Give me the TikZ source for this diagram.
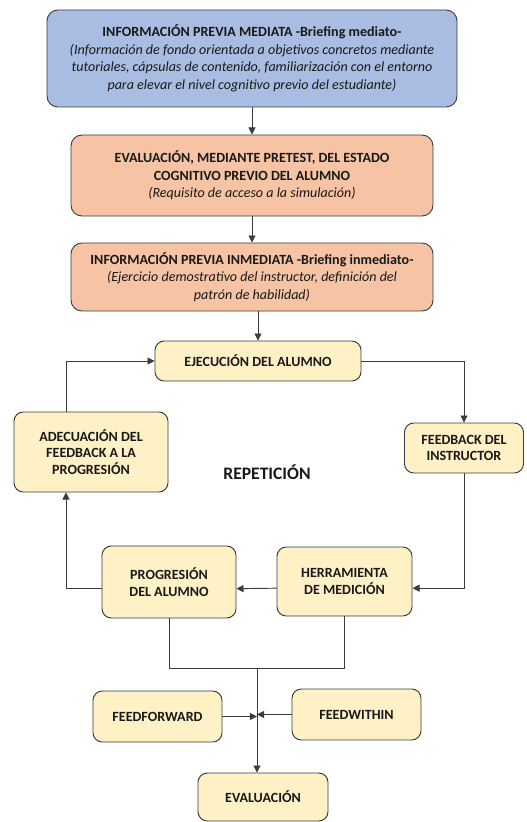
\documentclass[tikz,border=0pt]{standalone}
\usepackage{fontspec}
\setmainfont{Carlito}
\usepackage{tikz}
\usetikzlibrary{arrows.meta, positioning, calc}

\definecolor{azul}{RGB}{169,189,227}
\definecolor{naranja}{RGB}{246,196,164}
\definecolor{amarillo}{RGB}{255,241,198}
\definecolor{borde}{RGB}{60,60,60}
\definecolor{texto}{RGB}{25,25,25}

\tikzset{
    caja/.style={draw=borde, line width=0.8pt, rounded corners=0.33cm, align=center, text=texto,
        font=\fontsize{12}{15}\selectfont, inner sep=2pt},
    fase/.style={caja, fill=amarillo, font=\fontsize{12}{14.2}\selectfont\bfseries, rounded corners=0.28cm},
    linea/.style={draw=borde, line width=0.8pt},
}

\begin{document}
\begin{tikzpicture}[x=0.03cm, y=-0.03cm, >={Triangle[length=6pt,width=6pt]}]
    \useasboundingbox (0,0) rectangle (526,822);

    \node[caja, fill=azul, minimum width=12.3cm, minimum height=2.91cm] (previa) at (252,58.5)
        {\textbf{INFORMACIÓN PREVIA MEDIATA -Briefing mediato-}\\
         \textit{(Información de fondo orientada a objetivos concretos mediante}\\
         \textit{tutoriales, cápsulas de contenido, familiarización con el entorno}\\
         \textit{para elevar el nivel cognitivo previo del estudiante)}};
    \node[caja, fill=naranja, minimum width=10.86cm, minimum height=2.43cm] (pretest) at (252,175.5)
        {\textbf{EVALUACIÓN, MEDIANTE PRETEST, DEL ESTADO}\\
         \textbf{COGNITIVO PREVIO DEL ALUMNO}\\
         \textit{(Requisito de acceso a la simulación)}};
    \node[caja, fill=naranja, minimum width=10.86cm, minimum height=2.04cm] (inmediata) at (252,277)
        {\textbf{INFORMACIÓN PREVIA INMEDIATA -Briefing inmediato-}\\
         \textit{(Ejercicio demostrativo del instructor, definición del}\\
         \textit{patrón de habilidad)}};

    \node[fase, minimum width=6.18cm, minimum height=1.2cm] (ejecucion) at (258,361) {EJECUCIÓN DEL ALUMNO};
    \node[fase, minimum width=4.62cm, minimum height=2.4cm] (adecuacion) at (91,452) {ADECUACIÓN DEL\\FEEDBACK A LA\\PROGRESIÓN};
    \node[fase, minimum width=3.57cm, minimum height=1.5cm] (instructor) at (464,448) {FEEDBACK DEL\\INSTRUCTOR};
    \node[fase, minimum width=4.02cm, minimum height=2.16cm] (progresion) at (169,582) {PROGRESIÓN\\DEL ALUMNO};
    \node[fase, minimum width=4.05cm, minimum height=2.07cm] (medicion) at (344.5,581.5) {HERRAMIENTA\\DE MEDICIÓN};
    \node[fase, minimum width=3.87cm, minimum height=1.53cm] (feedforward) at (157.5,716.5) {FEEDFORWARD};
    \node[fase, minimum width=3.87cm, minimum height=1.53cm] (feedwithin) at (356.5,714.5) {FEEDWITHIN};
    \node[fase, minimum width=3.9cm, minimum height=1.44cm] (evaluacion) at (263,797) {EVALUACIÓN};

    \node[text=texto, font=\fontsize{15}{18}\selectfont\bfseries] (repeticion) at (267,472) {REPETICIÓN};

    \draw[->, linea] (previa) -- (pretest);
    \draw[->, linea] (pretest) -- (inmediata);
    \draw[->, linea] (inmediata.south -| ejecucion) -- (ejecucion);

    \draw[->, linea] (ejecucion.east) -| (instructor.north);
    \draw[->, linea] (instructor.south) |- ([yshift=-0.2cm]medicion.east);
    \draw[->, linea] ([yshift=-0.2cm]medicion.west) -- ([yshift=-0.2cm]progresion.east);
    \draw[->, linea] ([yshift=-0.2cm]progresion.west) -| ([xshift=-0.75cm]adecuacion.south);
    \draw[->, linea] ([xshift=-0.75cm]adecuacion.north) |- (ejecucion.west);

    \coordinate (union) at (257,668);
    \draw[linea] (progresion.south) |- (union);
    \draw[linea] (medicion.south) |- (union);
    \draw[->, linea] (union) -- (union |- evaluacion.north);
    \draw[->, linea] (feedforward.east) -- (feedforward.east -| union);
    \draw[->, linea] (feedwithin.west) -- (feedwithin.west -| union);

\end{tikzpicture}
\end{document}
